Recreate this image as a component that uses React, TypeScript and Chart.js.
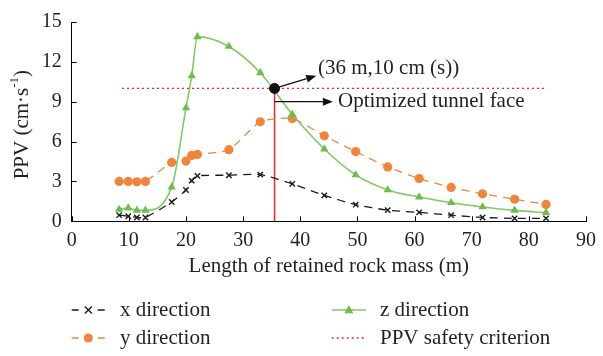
import React, { useEffect, useRef } from "react";
import { Chart, registerables } from "chart.js";

Chart.register(...registerables);

// ---------- data ----------
const distances = [8.3, 9.9, 11.4, 12.9, 17.5, 20, 21, 22, 27.5, 33, 38.6, 44.2, 49.7, 55.3, 60.8, 66.4, 71.9, 77.5, 83];
const xDirection = [0.46, 0.38, 0.29, 0.29, 1.45, 2.36, 3.06, 3.42, 3.47, 3.51, 2.82, 1.95, 1.25, 0.84, 0.67, 0.46, 0.29, 0.22, 0.22];
const yDirection = [3.0, 3.0, 2.97, 3.0, 4.43, 4.53, 4.96, 5.03, 5.39, 7.49, 7.73, 6.43, 5.25, 4.09, 3.22, 2.55, 2.07, 1.66, 1.27];
const zDirection = [0.89, 1.0, 0.82, 0.82, 2.57, 8.53, 10.94, 13.88, 13.16, 11.18, 8.05, 5.44, 3.49, 2.36, 1.83, 1.4, 1.08, 0.82, 0.65];
const safetyCriterion = 10;
const safetyRange = [8.8, 83.2];
const optimizedFaceX = 35.5;
const optimizedFaceY = 10;
const xTickValues = [0, 10, 20, 30, 40, 50, 60, 70, 80, 90];
const yTickValues = [0, 3, 6, 9, 12, 15];

const labelPoint = "(36 m,10 cm (s))";
const labelFace = "Optimized tunnel face";
const xTitle = "Length of retained rock mass (m)";
const legendLabels = ["x direction", "y direction", "z direction", "PPV safety criterion"];

// ---------- styles ----------
const FONT = "'Liberation Serif', 'Times New Roman', serif";
const TEXT = "#231f20";
const BLACK = "#1a1a1a";
const ORANGE = "#f0843a";
const GREEN = "#6cbd4a";
const GREEN_LINE = "#82c865";
const RED = "#e5282a";

function drawMarker(ctx: CanvasRenderingContext2D, style: string, x: number, y: number, r: number, color: string) {
  ctx.save();
  ctx.fillStyle = color;
  ctx.strokeStyle = color;
  ctx.setLineDash([]);
  if (style === "circle") {
    ctx.beginPath();
    ctx.arc(x, y, r, 0, Math.PI * 2);
    ctx.fill();
  } else if (style === "triangle") {
    ctx.beginPath();
    ctx.moveTo(x, y - r * 1.1);
    ctx.lineTo(x + r, y + r * 0.7);
    ctx.lineTo(x - r, y + r * 0.7);
    ctx.closePath();
    ctx.fill();
  } else if (style === "crossRot") {
    ctx.lineWidth = 1.4;
    ctx.beginPath();
    ctx.moveTo(x - r, y - r);
    ctx.lineTo(x + r, y + r);
    ctx.moveTo(x + r, y - r);
    ctx.lineTo(x - r, y + r);
    ctx.stroke();
  }
  ctx.restore();
}

function arrow(ctx: CanvasRenderingContext2D, x1: number, y1: number, x2: number, y2: number) {
  const ang = Math.atan2(y2 - y1, x2 - x1);
  const hl = 10;
  const hw = 4;
  const bx = x2 - hl * Math.cos(ang);
  const by = y2 - hl * Math.sin(ang);
  ctx.save();
  ctx.strokeStyle = "#111";
  ctx.fillStyle = "#111";
  ctx.lineWidth = 1.3;
  ctx.setLineDash([]);
  ctx.beginPath();
  ctx.moveTo(x1, y1);
  ctx.lineTo(bx, by);
  ctx.stroke();
  ctx.beginPath();
  ctx.moveTo(x2, y2);
  ctx.lineTo(bx + hw * Math.sin(ang), by - hw * Math.cos(ang));
  ctx.lineTo(bx - hw * Math.sin(ang), by + hw * Math.cos(ang));
  ctx.closePath();
  ctx.fill();
  ctx.restore();
}

const customPlugin = {
  id: "custom",
  afterDraw(chart: any) {
    const { ctx, chartArea, scales } = chart;
    const xs = scales.x;
    const ys = scales.y;

    // inward ticks
    ctx.save();
    ctx.strokeStyle = "#000";
    ctx.lineWidth = 1;
    ctx.setLineDash([]);
    xTickValues.forEach((v) => {
      const px = Math.round(xs.getPixelForValue(v)) + 0.5;
      ctx.beginPath();
      ctx.moveTo(px, chartArea.bottom);
      ctx.lineTo(px, chartArea.bottom - 5);
      ctx.stroke();
    });
    yTickValues.forEach((v) => {
      const py = Math.round(ys.getPixelForValue(v)) + 0.5;
      ctx.beginPath();
      ctx.moveTo(chartArea.left, py);
      ctx.lineTo(chartArea.left + 5, py);
      ctx.stroke();
    });
    ctx.restore();

    // annotations
    const fx = xs.getPixelForValue(optimizedFaceX);
    const fy = ys.getPixelForValue(optimizedFaceY);
    arrow(ctx, fx, fy, xs.getPixelForValue(42.8), ys.getPixelForValue(10.95));
    arrow(ctx, fx, ys.getPixelForValue(9.0), xs.getPixelForValue(45.7), ys.getPixelForValue(9.0));
    ctx.save();
    ctx.fillStyle = TEXT;
    ctx.font = `21px ${FONT}`;
    ctx.textBaseline = "middle";
    ctx.textAlign = "left";
    ctx.fillText(labelPoint, xs.getPixelForValue(43.1), ys.getPixelForValue(11.5));
    ctx.fillText(labelFace, xs.getPixelForValue(46.6), ys.getPixelForValue(9.0));
    ctx.restore();

    // y-axis title with superscript
    ctx.save();
    ctx.translate(22, (chartArea.top + chartArea.bottom) / 2 + 3);
    ctx.rotate(-Math.PI / 2);
    ctx.fillStyle = TEXT;
    ctx.textBaseline = "middle";
    ctx.textAlign = "left";
    const main = "PPV (cm·s";
    const sup = "-1";
    const end = ")";
    ctx.font = `21px ${FONT}`;
    const w1 = ctx.measureText(main).width;
    const w3 = ctx.measureText(end).width;
    ctx.font = `13px ${FONT}`;
    const w2 = ctx.measureText(sup).width;
    const total = w1 + w2 + w3;
    let sx = -total / 2;
    ctx.font = `21px ${FONT}`;
    ctx.fillText(main, sx, 0);
    sx += w1;
    ctx.font = `13px ${FONT}`;
    ctx.fillText(sup, sx, -7);
    sx += w2;
    ctx.font = `21px ${FONT}`;
    ctx.fillText(end, sx, 0);
    ctx.restore();

    // legend
    const rows = [310, 338];
    const cols = [
      { l0: 71.7, l1: 105, t: 120 },
      { l0: 331.7, l1: 366, t: 380 },
    ];
    const items = [
      { label: legendLabels[0], col: 0, row: 0, color: BLACK, dash: [7, 6], marker: "crossRot", r: 3.5, lw: 1.4 },
      { label: legendLabels[1], col: 0, row: 1, color: ORANGE, dash: [7, 6], marker: "circle", r: 4.5, lw: 1.4 },
      { label: legendLabels[2], col: 1, row: 0, color: GREEN_LINE, dash: [], marker: "triangle", r: 4.5, lw: 1.6, mcolor: GREEN },
      { label: legendLabels[3], col: 1, row: 1, color: RED, dash: [2, 3], marker: "", r: 0, lw: 1.3 },
    ];
    items.forEach((it: any) => {
      const c = cols[it.col];
      const y = rows[it.row];
      ctx.save();
      ctx.strokeStyle = it.color;
      ctx.lineWidth = it.lw;
      ctx.setLineDash(it.dash);
      ctx.beginPath();
      ctx.moveTo(c.l0, y);
      ctx.lineTo(c.l1, y);
      ctx.stroke();
      ctx.restore();
      if (it.marker) {
        if (it.dash.length) {
          ctx.save();
          ctx.fillStyle = "#fff";
          ctx.fillRect((c.l0 + c.l1) / 2 - 7, y - 3, 14, 6);
          ctx.restore();
        }
        drawMarker(ctx, it.marker, (c.l0 + c.l1) / 2, y, it.r, it.mcolor || it.color);
      }
      ctx.save();
      ctx.fillStyle = TEXT;
      ctx.font = `21px ${FONT}`;
      ctx.textBaseline = "middle";
      ctx.textAlign = "left";
      ctx.fillText(it.label, c.t, y);
      ctx.restore();
    });
  },
};

export default function App() {
  const canvasRef = useRef<HTMLCanvasElement | null>(null);

  useEffect(() => {
    const canvas = canvasRef.current;
    if (!canvas) return;
    const pts = (ys: number[]) => distances.map((d, i) => ({ x: d, y: ys[i] }));

    const chart = new Chart(canvas, {
      type: "line",
      data: {
        datasets: [
          {
            label: "Optimized tunnel face point",
            data: [{ x: optimizedFaceX, y: optimizedFaceY }],
            showLine: false,
            pointRadius: 5,
            pointBackgroundColor: "#111",
            pointBorderColor: "#111",
          },
          {
            label: legendLabels[0],
            data: pts(xDirection),
            borderColor: BLACK,
            borderWidth: 1.3,
            borderDash: [8, 6],
            tension: 0.2,
            pointStyle: "crossRot",
            pointRadius: 3.8,
            pointBorderWidth: 1.4,
            pointBorderColor: BLACK,
            pointBackgroundColor: BLACK,
          },
          {
            label: legendLabels[2],
            data: pts(zDirection),
            borderColor: GREEN_LINE,
            borderWidth: 1.6,
            cubicInterpolationMode: "monotone",
            pointStyle: "triangle",
            pointRadius: 4.8,
            pointBorderWidth: 0,
            pointBorderColor: GREEN,
            pointBackgroundColor: GREEN,
          },
          {
            label: legendLabels[1],
            data: pts(yDirection),
            borderColor: ORANGE,
            borderWidth: 1.3,
            borderDash: [8, 6],
            tension: 0.2,
            pointStyle: "circle",
            pointRadius: 4.6,
            pointBorderWidth: 0,
            pointBorderColor: ORANGE,
            pointBackgroundColor: ORANGE,
          },
          {
            label: "Optimized tunnel face",
            data: [
              { x: optimizedFaceX, y: 0 },
              { x: optimizedFaceX, y: optimizedFaceY },
            ],
            borderColor: RED,
            borderWidth: 1.5,
            pointRadius: 0,
          },
          {
            label: legendLabels[3],
            data: [
              { x: safetyRange[0], y: safetyCriterion },
              { x: safetyRange[1], y: safetyCriterion },
            ],
            borderColor: RED,
            borderWidth: 1.3,
            borderDash: [2, 3],
            pointRadius: 0,
          },
        ],
      },
      options: {
        animation: false,
        responsive: false,
        maintainAspectRatio: false,
        layout: { padding: { top: 14, right: 13, left: 0, bottom: 0 } },
        plugins: {
          legend: { display: false },
          tooltip: { enabled: false },
          title: { display: false },
        },
        scales: {
          x: {
            type: "linear",
            min: 0,
            max: 90,
            afterFit: (s: any) => {
              s.height = 134.7;
            },
            afterBuildTicks: (s: any) => {
              s.ticks = xTickValues.map((v) => ({ value: v }));
            },
            ticks: {
              color: TEXT,
              font: { family: FONT, size: 20 },
              padding: 7,
              maxRotation: 0,
            },
            grid: { display: false, drawTicks: false },
            border: { display: true, color: "#000", width: 1 },
            title: {
              display: true,
              text: xTitle,
              color: TEXT,
              font: { family: FONT, size: 21 },
              padding: { top: 0, bottom: 77 },
            },
          },
          y: {
            type: "linear",
            min: 0,
            max: 15,
            afterFit: (s: any) => {
              s.width = 71.7;
            },
            afterBuildTicks: (s: any) => {
              s.ticks = yTickValues.map((v) => ({ value: v }));
            },
            ticks: {
              color: TEXT,
              font: { family: FONT, size: 20 },
              padding: 10,
            },
            grid: { display: false, drawTicks: false },
            border: { display: true, color: "#000", width: 1 },
          },
        },
      },
      plugins: [customPlugin],
    } as any);

    return () => chart.destroy();
  }, []);

  return (
    <div style={{ position: "fixed", left: 0, top: 0, width: 603, height: 356, background: "#fff" }}>
      <canvas ref={canvasRef} width={603} height={356} style={{ display: "block", width: 603, height: 356 }} />
    </div>
  );
}
